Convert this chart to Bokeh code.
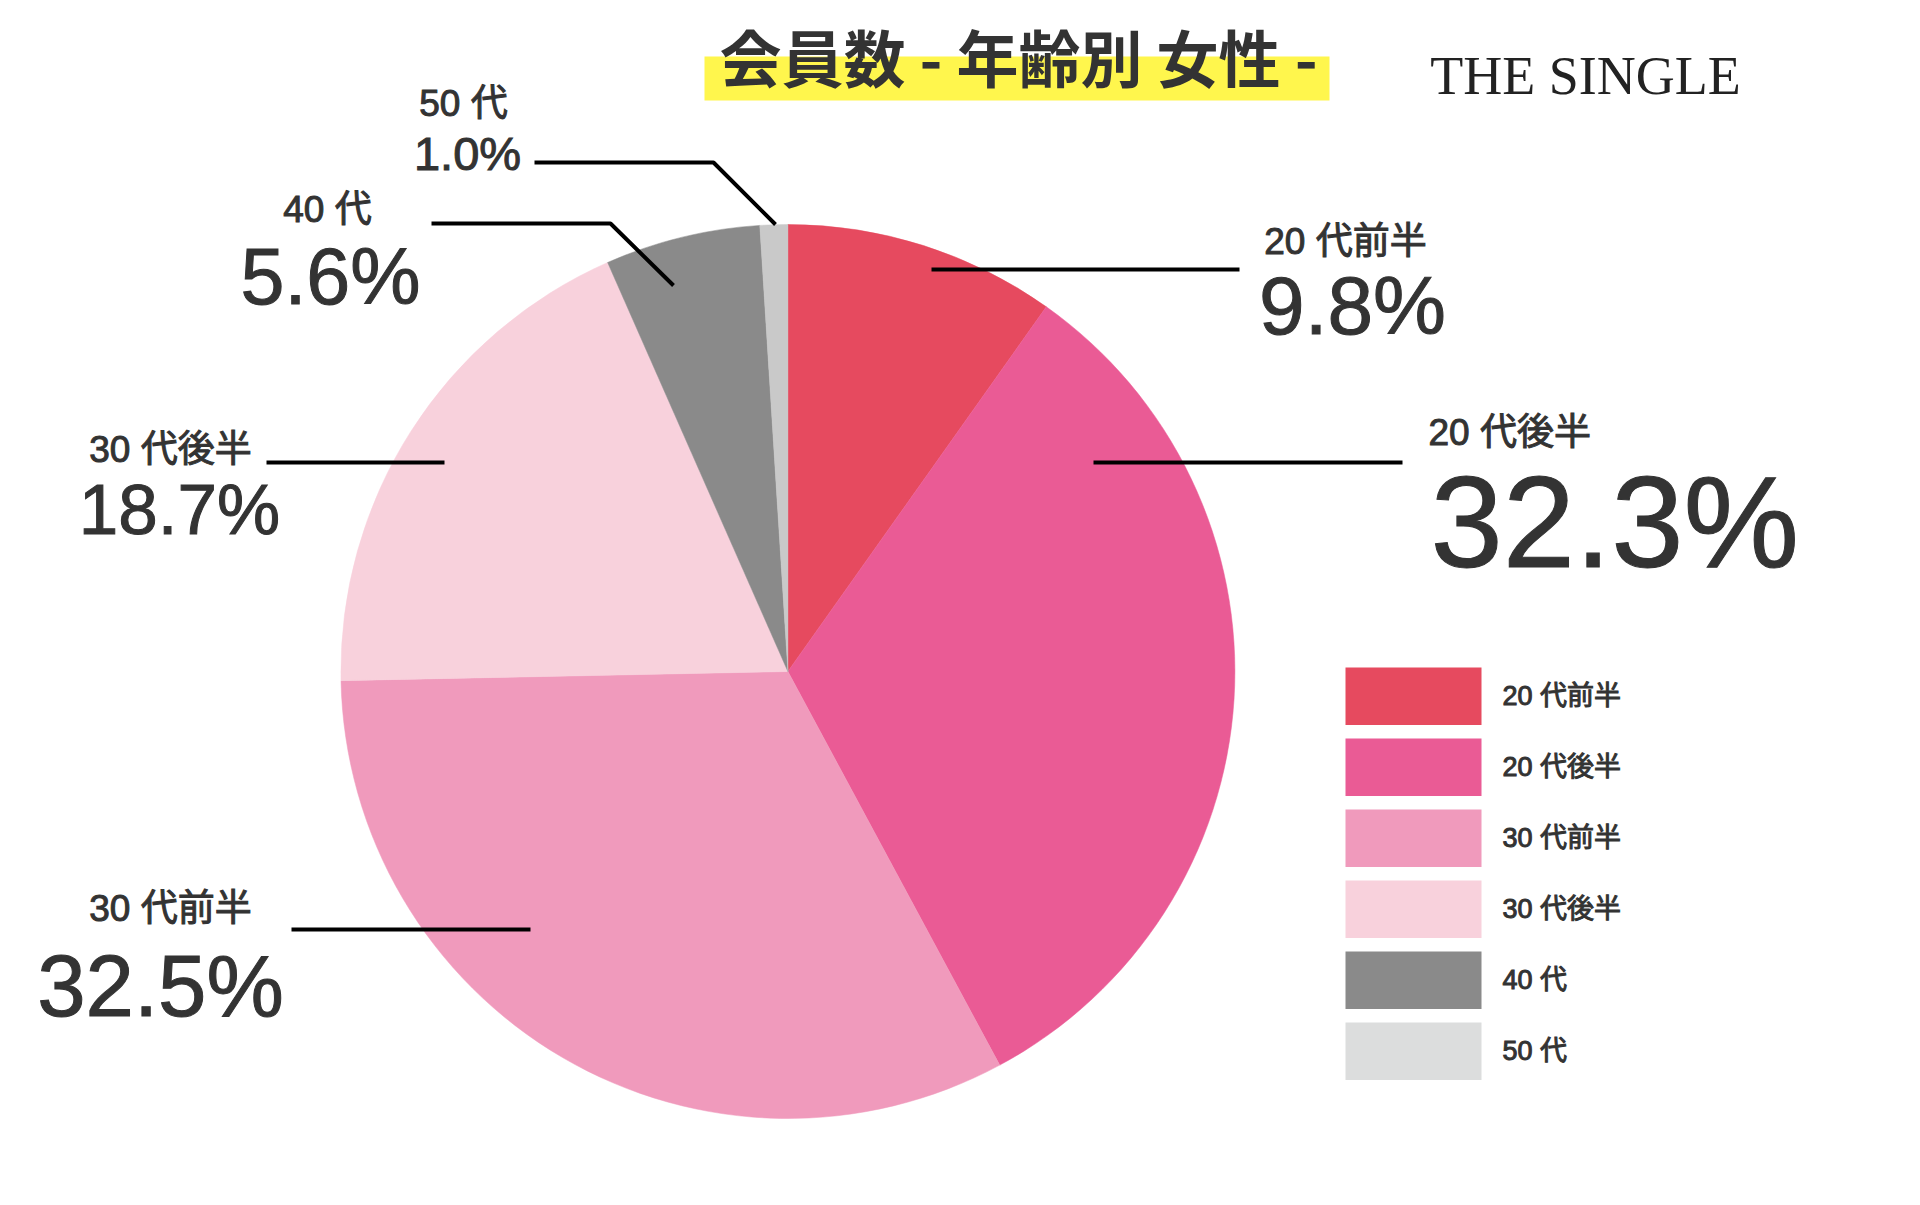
from bokeh.plotting import figure
from bokeh.models import Range1d
from bokeh.core.properties import value
from bokeh.embed import file_html
from bokeh.resources import INLINE
import math

# ---------------- data ----------------
categories = ["20 代前半", "20 代後半", "30 代前半", "30 代後半", "40 代", "50 代"]
percents = [9.8, 32.3, 32.5, 18.7, 5.6, 1.0]
slice_colors = ["#E64A5F", "#EA5B95", "#F09ABC", "#F8D1DC", "#8A8A8A", "#C9C9C9"]
legend_colors = ["#E64A5F", "#EA5B95", "#F09ABC", "#F8D1DC", "#8A8A8A", "#DCDDDD"]
title_text = "会員数 - 年齢別 女性 -"
logo_text = "THE SINGLE"

# ---------------- layout (pixels from the top-left of the figure) ----------------
FW, FH = 1904, 1189
def Y(v):
    return FH - v

p = figure(width=FW, height=FH, output_backend="svg", toolbar_location=None,
           x_range=Range1d(0, FW), y_range=Range1d(0, FH),
           x_axis_location=None, y_axis_location=None, min_border=0)
p.grid.visible = False
p.outline_line_color = None
p.background_fill_color = "white"
p.border_fill_color = "white"

TXT = "#333333"
FONT = value("Liberation Sans, Noto Sans CJK JP")
CJK = value("Noto Sans CJK JP")

# title with yellow highlight
p.quad(left=[704], right=[1329], bottom=[Y(100)], top=[Y(56)], fill_color="#FFF64D", line_color=None)
p.text(x=[1018], y=[Y(55)], text=[title_text], text_font=CJK, text_font_size="62px",
       text_font_style="bold", text_color=TXT, text_align="center", text_baseline="middle")
# logo
p.text(x=[1585], y=[Y(75)], text=[logo_text], text_font=value("Liberation Serif"),
       text_font_size="54px", text_color="#222222", text_align="center", text_baseline="middle")

# pie
cx, cy, r = 787.4, Y(671), 447
total = sum(percents)
starts, ends = [], []
c = 0.0
for v in percents:
    c0 = c
    c1 = c + v / total
    starts.append(math.pi / 2 - 2 * math.pi * c1)
    ends.append(math.pi / 2 - 2 * math.pi * c0)
    c = c1
p.wedge(x=cx, y=cy, radius=r, start_angle=starts, end_angle=ends, direction="anticlock",
        fill_color=slice_colors, line_color=slice_colors, line_width=0.5)

# callout labels: (name x, name y, value x, value y, value size, align)
label_pos = [
    (1345, 241, 1352, 305, 82, "center"),
    (1428, 432, 1430, 521, 130, "left"),
    (170, 908, 160, 985, 87, "center"),
    (170, 449, 179, 509, 71, "center"),
    (327, 209, 330, 276, 79, "center"),
    (463, 103, 467, 153, 47, "center"),
]
leaders = [
    ([931, 1239], [269, 269]),
    ([1093, 1402], [462, 462]),
    ([291, 530], [929, 929]),
    ([266, 444], [462, 462]),
    ([431, 610, 673], [223, 223, 285]),
    ([534, 713, 775], [162, 162, 224]),
]
for i, cat in enumerate(categories):
    nx, ny, vx, vy, vs, al = label_pos[i]
    p.text(x=[nx], y=[Y(ny)], text=[cat], text_font=FONT, text_font_size="37px",
           text_color=TXT, text_outline_color=TXT, text_align=al, text_baseline="middle")
    p.text(x=[vx], y=[Y(vy)], text=[f"{percents[i]:.1f}%"], text_font=FONT,
           text_font_size=f"{vs}px", text_color=TXT, text_outline_color=TXT,
           text_align=al, text_baseline="middle")
    lx, ly = leaders[i]
    p.line(x=lx, y=[Y(v) for v in ly], line_color="#000000", line_width=4)

# legend
leg_top0, leg_pitch, leg_h = 667, 71.0, 57.5
for i, cat in enumerate(categories):
    top = leg_top0 + i * leg_pitch
    p.quad(left=[1345], right=[1481], top=[Y(top)], bottom=[Y(top + leg_h)],
           fill_color=legend_colors[i], line_color=None)
    p.text(x=[1502], y=[Y(top + leg_h / 2)], text=[cat], text_font=FONT, text_font_size="27px",
           text_color=TXT, text_outline_color=TXT, text_align="left", text_baseline="middle")

open("out.html", "w").write(file_html(p, INLINE))
